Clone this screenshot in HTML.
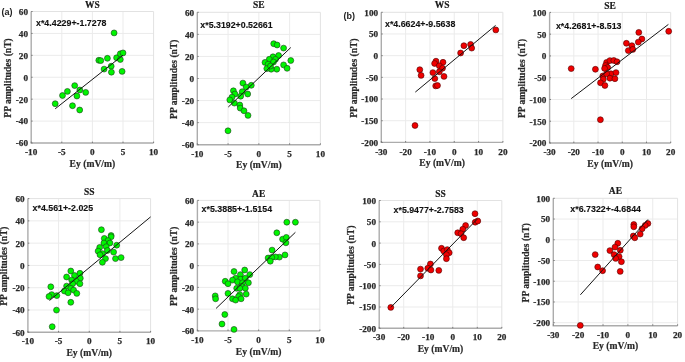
<!DOCTYPE html>
<html><head><meta charset="utf-8"><title>PP amplitudes vs Ey</title>
<style>
html,body{margin:0;padding:0;background:#fff;}
svg{display:block;filter:blur(0.35px);}
.tk{font-family:'Liberation Serif', serif;font-weight:bold;font-size:9.2px;fill:#2a2a2a;stroke:#2a2a2a;stroke-width:0.25px;}
.ti{font-family:'Liberation Serif', serif;font-weight:bold;font-size:9.5px;fill:#1a1a1a;stroke:#1a1a1a;stroke-width:0.2px;}
.lb{font-family:'Liberation Serif', serif;font-weight:bold;font-size:9.6px;fill:#2a2a2a;stroke:#2a2a2a;stroke-width:0.2px;}
.eq{font-family:'Liberation Sans', sans-serif;font-weight:bold;font-size:8.8px;fill:#111;stroke:#111;stroke-width:0.12px;}
.pl{font-family:'Liberation Sans', sans-serif;font-weight:bold;font-size:9.0px;fill:#222;}
</style></head>
<body>
<svg width="685" height="362" viewBox="0 0 685 362">
<rect width="685" height="362" fill="#fff"/>
<text x="1.4" y="15" class="pl">(a)</text>
<text x="343.4" y="19" class="pl">(b)</text>
<line x1="61.8" y1="11.5" x2="61.8" y2="143" stroke="#ebebeb" stroke-width="1"/>
<line x1="92.4" y1="11.5" x2="92.4" y2="143" stroke="#ebebeb" stroke-width="1"/>
<line x1="123" y1="11.5" x2="123" y2="143" stroke="#ebebeb" stroke-width="1"/>
<line x1="31.2" y1="121.08" x2="153.6" y2="121.08" stroke="#ebebeb" stroke-width="1"/>
<line x1="31.2" y1="99.17" x2="153.6" y2="99.17" stroke="#ebebeb" stroke-width="1"/>
<line x1="31.2" y1="77.25" x2="153.6" y2="77.25" stroke="#ebebeb" stroke-width="1"/>
<line x1="31.2" y1="55.33" x2="153.6" y2="55.33" stroke="#ebebeb" stroke-width="1"/>
<line x1="31.2" y1="33.42" x2="153.6" y2="33.42" stroke="#ebebeb" stroke-width="1"/>
<path d="M31.2 11.5H153.6V143" fill="none" stroke="#e2e2e2" stroke-width="1"/>
<path d="M31.2 11.5V143H153.6" fill="none" stroke="#acacac" stroke-width="1.4"/>
<path d="M31.2 143v-1.4M61.8 143v-1.4M92.4 143v-1.4M123 143v-1.4M153.6 143v-1.4M31.2 143h1.4M31.2 121.08h1.4M31.2 99.17h1.4M31.2 77.25h1.4M31.2 55.33h1.4M31.2 33.42h1.4M31.2 11.5h1.4" stroke="#707070" stroke-width="0.9" fill="none"/>
<circle cx="114.1" cy="32.9" r="2.95" fill="#00f500" stroke="#1c3a1c" stroke-width="0.6"/>
<circle cx="98.8" cy="60.3" r="2.95" fill="#00f500" stroke="#1c3a1c" stroke-width="0.6"/>
<circle cx="100.8" cy="60.6" r="2.95" fill="#00f500" stroke="#1c3a1c" stroke-width="0.6"/>
<circle cx="107.4" cy="58.3" r="2.95" fill="#00f500" stroke="#1c3a1c" stroke-width="0.6"/>
<circle cx="116.6" cy="57.8" r="2.95" fill="#00f500" stroke="#1c3a1c" stroke-width="0.6"/>
<circle cx="120.3" cy="53.8" r="2.95" fill="#00f500" stroke="#1c3a1c" stroke-width="0.6"/>
<circle cx="123" cy="52.9" r="2.95" fill="#00f500" stroke="#1c3a1c" stroke-width="0.6"/>
<circle cx="120.3" cy="59.5" r="2.95" fill="#00f500" stroke="#1c3a1c" stroke-width="0.6"/>
<circle cx="104.1" cy="69.1" r="2.95" fill="#00f500" stroke="#1c3a1c" stroke-width="0.6"/>
<circle cx="111.2" cy="66.2" r="2.95" fill="#00f500" stroke="#1c3a1c" stroke-width="0.6"/>
<circle cx="111.4" cy="72.2" r="2.95" fill="#00f500" stroke="#1c3a1c" stroke-width="0.6"/>
<circle cx="122.1" cy="71.4" r="2.95" fill="#00f500" stroke="#1c3a1c" stroke-width="0.6"/>
<circle cx="74.7" cy="85.6" r="2.95" fill="#00f500" stroke="#1c3a1c" stroke-width="0.6"/>
<circle cx="67.4" cy="91.4" r="2.95" fill="#00f500" stroke="#1c3a1c" stroke-width="0.6"/>
<circle cx="79.8" cy="90" r="2.95" fill="#00f500" stroke="#1c3a1c" stroke-width="0.6"/>
<circle cx="85.7" cy="92.4" r="2.95" fill="#00f500" stroke="#1c3a1c" stroke-width="0.6"/>
<circle cx="62.5" cy="95.5" r="2.95" fill="#00f500" stroke="#1c3a1c" stroke-width="0.6"/>
<circle cx="76.9" cy="96" r="2.95" fill="#00f500" stroke="#1c3a1c" stroke-width="0.6"/>
<circle cx="55.2" cy="103.7" r="2.95" fill="#00f500" stroke="#1c3a1c" stroke-width="0.6"/>
<circle cx="72.5" cy="105.7" r="2.95" fill="#00f500" stroke="#1c3a1c" stroke-width="0.6"/>
<circle cx="79.7" cy="110" r="2.95" fill="#00f500" stroke="#1c3a1c" stroke-width="0.6"/>
<line x1="55.2" y1="108.8" x2="123" y2="55.2" stroke="#151515" stroke-width="1.0"/>
<text x="31.2" y="155.1" class="tk" text-anchor="middle">-10</text>
<text x="61.8" y="155.1" class="tk" text-anchor="middle">-5</text>
<text x="92.4" y="155.1" class="tk" text-anchor="middle">0</text>
<text x="123" y="155.1" class="tk" text-anchor="middle">5</text>
<text x="153.6" y="155.1" class="tk" text-anchor="middle">10</text>
<text x="28" y="146.4" class="tk" text-anchor="end">-60</text>
<text x="28" y="124.48" class="tk" text-anchor="end">-40</text>
<text x="28" y="102.57" class="tk" text-anchor="end">-20</text>
<text x="28" y="80.65" class="tk" text-anchor="end">0</text>
<text x="28" y="58.73" class="tk" text-anchor="end">20</text>
<text x="28" y="36.82" class="tk" text-anchor="end">40</text>
<text x="28" y="14.9" class="tk" text-anchor="end">60</text>
<text x="92.4" y="7.6" class="ti" text-anchor="middle">WS</text>
<text x="92.4" y="166.6" class="lb" text-anchor="middle">Ey (mV/m)</text>
<text transform="translate(10.5 77.95) rotate(-90)" class="lb" text-anchor="middle">PP amplitudes (nT)</text>
<text x="36" y="26.3" class="eq" textLength="70.5">x*4.4229+-1.7278</text>
<line x1="228.07" y1="12.3" x2="228.07" y2="144.7" stroke="#ebebeb" stroke-width="1"/>
<line x1="258.85" y1="12.3" x2="258.85" y2="144.7" stroke="#ebebeb" stroke-width="1"/>
<line x1="289.62" y1="12.3" x2="289.62" y2="144.7" stroke="#ebebeb" stroke-width="1"/>
<line x1="197.3" y1="122.63" x2="320.4" y2="122.63" stroke="#ebebeb" stroke-width="1"/>
<line x1="197.3" y1="100.57" x2="320.4" y2="100.57" stroke="#ebebeb" stroke-width="1"/>
<line x1="197.3" y1="78.5" x2="320.4" y2="78.5" stroke="#ebebeb" stroke-width="1"/>
<line x1="197.3" y1="56.43" x2="320.4" y2="56.43" stroke="#ebebeb" stroke-width="1"/>
<line x1="197.3" y1="34.37" x2="320.4" y2="34.37" stroke="#ebebeb" stroke-width="1"/>
<path d="M197.3 12.3H320.4V144.7" fill="none" stroke="#e2e2e2" stroke-width="1"/>
<path d="M197.3 12.3V144.7H320.4" fill="none" stroke="#acacac" stroke-width="1.4"/>
<path d="M197.3 144.7v-1.4M228.07 144.7v-1.4M258.85 144.7v-1.4M289.62 144.7v-1.4M320.4 144.7v-1.4M197.3 144.7h1.4M197.3 122.63h1.4M197.3 100.57h1.4M197.3 78.5h1.4M197.3 56.43h1.4M197.3 34.37h1.4M197.3 12.3h1.4" stroke="#707070" stroke-width="0.9" fill="none"/>
<circle cx="273.7" cy="43.7" r="2.95" fill="#00f500" stroke="#1c3a1c" stroke-width="0.6"/>
<circle cx="277.1" cy="45" r="2.95" fill="#00f500" stroke="#1c3a1c" stroke-width="0.6"/>
<circle cx="283.6" cy="48.1" r="2.95" fill="#00f500" stroke="#1c3a1c" stroke-width="0.6"/>
<circle cx="290.8" cy="60.5" r="2.95" fill="#00f500" stroke="#1c3a1c" stroke-width="0.6"/>
<circle cx="278.6" cy="55.5" r="2.95" fill="#00f500" stroke="#1c3a1c" stroke-width="0.6"/>
<circle cx="273" cy="56.8" r="2.95" fill="#00f500" stroke="#1c3a1c" stroke-width="0.6"/>
<circle cx="269.3" cy="59.3" r="2.95" fill="#00f500" stroke="#1c3a1c" stroke-width="0.6"/>
<circle cx="275.5" cy="59.3" r="2.95" fill="#00f500" stroke="#1c3a1c" stroke-width="0.6"/>
<circle cx="265" cy="62.4" r="2.95" fill="#00f500" stroke="#1c3a1c" stroke-width="0.6"/>
<circle cx="268.1" cy="64.2" r="2.95" fill="#00f500" stroke="#1c3a1c" stroke-width="0.6"/>
<circle cx="283.6" cy="64.9" r="2.95" fill="#00f500" stroke="#1c3a1c" stroke-width="0.6"/>
<circle cx="287.1" cy="68.3" r="2.95" fill="#00f500" stroke="#1c3a1c" stroke-width="0.6"/>
<circle cx="276.8" cy="69.2" r="2.95" fill="#00f500" stroke="#1c3a1c" stroke-width="0.6"/>
<circle cx="271.2" cy="69.2" r="2.95" fill="#00f500" stroke="#1c3a1c" stroke-width="0.6"/>
<circle cx="266.8" cy="68.6" r="2.95" fill="#00f500" stroke="#1c3a1c" stroke-width="0.6"/>
<circle cx="273.5" cy="62" r="2.95" fill="#00f500" stroke="#1c3a1c" stroke-width="0.6"/>
<circle cx="270.5" cy="66" r="2.95" fill="#00f500" stroke="#1c3a1c" stroke-width="0.6"/>
<circle cx="242.9" cy="83.1" r="2.95" fill="#00f500" stroke="#1c3a1c" stroke-width="0.6"/>
<circle cx="251.3" cy="85.3" r="2.95" fill="#00f500" stroke="#1c3a1c" stroke-width="0.6"/>
<circle cx="246.2" cy="87.1" r="2.95" fill="#00f500" stroke="#1c3a1c" stroke-width="0.6"/>
<circle cx="233.4" cy="90.8" r="2.95" fill="#00f500" stroke="#1c3a1c" stroke-width="0.6"/>
<circle cx="234.9" cy="94" r="2.95" fill="#00f500" stroke="#1c3a1c" stroke-width="0.6"/>
<circle cx="242.2" cy="91.7" r="2.95" fill="#00f500" stroke="#1c3a1c" stroke-width="0.6"/>
<circle cx="247.7" cy="94" r="2.95" fill="#00f500" stroke="#1c3a1c" stroke-width="0.6"/>
<circle cx="240.7" cy="96.2" r="2.95" fill="#00f500" stroke="#1c3a1c" stroke-width="0.6"/>
<circle cx="232" cy="97.1" r="2.95" fill="#00f500" stroke="#1c3a1c" stroke-width="0.6"/>
<circle cx="229.8" cy="99.9" r="2.95" fill="#00f500" stroke="#1c3a1c" stroke-width="0.6"/>
<circle cx="234.4" cy="103.1" r="2.95" fill="#00f500" stroke="#1c3a1c" stroke-width="0.6"/>
<circle cx="239.8" cy="105" r="2.95" fill="#00f500" stroke="#1c3a1c" stroke-width="0.6"/>
<circle cx="240.2" cy="108.1" r="2.95" fill="#00f500" stroke="#1c3a1c" stroke-width="0.6"/>
<circle cx="244" cy="110.8" r="2.95" fill="#00f500" stroke="#1c3a1c" stroke-width="0.6"/>
<circle cx="248" cy="115.4" r="2.95" fill="#00f500" stroke="#1c3a1c" stroke-width="0.6"/>
<circle cx="228" cy="130.8" r="2.95" fill="#00f500" stroke="#1c3a1c" stroke-width="0.6"/>
<line x1="228.3" y1="107" x2="290.8" y2="47.5" stroke="#151515" stroke-width="1.0"/>
<text x="197.3" y="156.8" class="tk" text-anchor="middle">-10</text>
<text x="228.07" y="156.8" class="tk" text-anchor="middle">-5</text>
<text x="258.85" y="156.8" class="tk" text-anchor="middle">0</text>
<text x="289.62" y="156.8" class="tk" text-anchor="middle">5</text>
<text x="320.4" y="156.8" class="tk" text-anchor="middle">10</text>
<text x="194.1" y="148.1" class="tk" text-anchor="end">-60</text>
<text x="194.1" y="126.03" class="tk" text-anchor="end">-40</text>
<text x="194.1" y="103.97" class="tk" text-anchor="end">-20</text>
<text x="194.1" y="81.9" class="tk" text-anchor="end">0</text>
<text x="194.1" y="59.83" class="tk" text-anchor="end">20</text>
<text x="194.1" y="37.77" class="tk" text-anchor="end">40</text>
<text x="194.1" y="15.7" class="tk" text-anchor="end">60</text>
<text x="258.85" y="8.4" class="ti" text-anchor="middle">SE</text>
<text x="258.85" y="168.3" class="lb" text-anchor="middle">Ey (mV/m)</text>
<text transform="translate(176.6 79.2) rotate(-90)" class="lb" text-anchor="middle">PP amplitudes (nT)</text>
<text x="200.3" y="28" class="eq" textLength="72.3">x*5.3192+0.52661</text>
<line x1="58.57" y1="198.6" x2="58.57" y2="332.3" stroke="#ebebeb" stroke-width="1"/>
<line x1="89.25" y1="198.6" x2="89.25" y2="332.3" stroke="#ebebeb" stroke-width="1"/>
<line x1="119.92" y1="198.6" x2="119.92" y2="332.3" stroke="#ebebeb" stroke-width="1"/>
<line x1="27.9" y1="310.02" x2="150.6" y2="310.02" stroke="#ebebeb" stroke-width="1"/>
<line x1="27.9" y1="287.73" x2="150.6" y2="287.73" stroke="#ebebeb" stroke-width="1"/>
<line x1="27.9" y1="265.45" x2="150.6" y2="265.45" stroke="#ebebeb" stroke-width="1"/>
<line x1="27.9" y1="243.17" x2="150.6" y2="243.17" stroke="#ebebeb" stroke-width="1"/>
<line x1="27.9" y1="220.88" x2="150.6" y2="220.88" stroke="#ebebeb" stroke-width="1"/>
<path d="M27.9 198.6H150.6V332.3" fill="none" stroke="#e2e2e2" stroke-width="1"/>
<path d="M27.9 198.6V332.3H150.6" fill="none" stroke="#acacac" stroke-width="1.4"/>
<path d="M27.9 332.3v-1.4M58.57 332.3v-1.4M89.25 332.3v-1.4M119.92 332.3v-1.4M150.6 332.3v-1.4M27.9 332.3h1.4M27.9 310.02h1.4M27.9 287.73h1.4M27.9 265.45h1.4M27.9 243.17h1.4M27.9 220.88h1.4M27.9 198.6h1.4" stroke="#707070" stroke-width="0.9" fill="none"/>
<circle cx="101.4" cy="229.7" r="2.95" fill="#00f500" stroke="#1c3a1c" stroke-width="0.6"/>
<circle cx="111.1" cy="235.5" r="2.95" fill="#00f500" stroke="#1c3a1c" stroke-width="0.6"/>
<circle cx="111.1" cy="236.8" r="2.95" fill="#00f500" stroke="#1c3a1c" stroke-width="0.6"/>
<circle cx="104.3" cy="238.4" r="2.95" fill="#00f500" stroke="#1c3a1c" stroke-width="0.6"/>
<circle cx="108" cy="240.5" r="2.95" fill="#00f500" stroke="#1c3a1c" stroke-width="0.6"/>
<circle cx="109.9" cy="243" r="2.95" fill="#00f500" stroke="#1c3a1c" stroke-width="0.6"/>
<circle cx="103.9" cy="243" r="2.95" fill="#00f500" stroke="#1c3a1c" stroke-width="0.6"/>
<circle cx="116.7" cy="245.2" r="2.95" fill="#00f500" stroke="#1c3a1c" stroke-width="0.6"/>
<circle cx="99.7" cy="247.4" r="2.95" fill="#00f500" stroke="#1c3a1c" stroke-width="0.6"/>
<circle cx="106.2" cy="246.7" r="2.95" fill="#00f500" stroke="#1c3a1c" stroke-width="0.6"/>
<circle cx="107.4" cy="250.5" r="2.95" fill="#00f500" stroke="#1c3a1c" stroke-width="0.6"/>
<circle cx="98.1" cy="251.1" r="2.95" fill="#00f500" stroke="#1c3a1c" stroke-width="0.6"/>
<circle cx="113.6" cy="252.1" r="2.95" fill="#00f500" stroke="#1c3a1c" stroke-width="0.6"/>
<circle cx="102.4" cy="253.6" r="2.95" fill="#00f500" stroke="#1c3a1c" stroke-width="0.6"/>
<circle cx="100" cy="254.8" r="2.95" fill="#00f500" stroke="#1c3a1c" stroke-width="0.6"/>
<circle cx="105.5" cy="258.6" r="2.95" fill="#00f500" stroke="#1c3a1c" stroke-width="0.6"/>
<circle cx="115.5" cy="258.6" r="2.95" fill="#00f500" stroke="#1c3a1c" stroke-width="0.6"/>
<circle cx="121.1" cy="257.6" r="2.95" fill="#00f500" stroke="#1c3a1c" stroke-width="0.6"/>
<circle cx="102.4" cy="262.3" r="2.95" fill="#00f500" stroke="#1c3a1c" stroke-width="0.6"/>
<circle cx="70.8" cy="271" r="2.95" fill="#00f500" stroke="#1c3a1c" stroke-width="0.6"/>
<circle cx="79.9" cy="273.3" r="2.95" fill="#00f500" stroke="#1c3a1c" stroke-width="0.6"/>
<circle cx="66.6" cy="277" r="2.95" fill="#00f500" stroke="#1c3a1c" stroke-width="0.6"/>
<circle cx="74.5" cy="275.5" r="2.95" fill="#00f500" stroke="#1c3a1c" stroke-width="0.6"/>
<circle cx="80.3" cy="278.2" r="2.95" fill="#00f500" stroke="#1c3a1c" stroke-width="0.6"/>
<circle cx="71.7" cy="280.1" r="2.95" fill="#00f500" stroke="#1c3a1c" stroke-width="0.6"/>
<circle cx="76.3" cy="281.3" r="2.95" fill="#00f500" stroke="#1c3a1c" stroke-width="0.6"/>
<circle cx="79.9" cy="283.7" r="2.95" fill="#00f500" stroke="#1c3a1c" stroke-width="0.6"/>
<circle cx="72.6" cy="283.7" r="2.95" fill="#00f500" stroke="#1c3a1c" stroke-width="0.6"/>
<circle cx="66.6" cy="286.1" r="2.95" fill="#00f500" stroke="#1c3a1c" stroke-width="0.6"/>
<circle cx="70.8" cy="288.3" r="2.95" fill="#00f500" stroke="#1c3a1c" stroke-width="0.6"/>
<circle cx="73.6" cy="290.1" r="2.95" fill="#00f500" stroke="#1c3a1c" stroke-width="0.6"/>
<circle cx="64.4" cy="291" r="2.95" fill="#00f500" stroke="#1c3a1c" stroke-width="0.6"/>
<circle cx="68.1" cy="292.8" r="2.95" fill="#00f500" stroke="#1c3a1c" stroke-width="0.6"/>
<circle cx="76.8" cy="293.4" r="2.95" fill="#00f500" stroke="#1c3a1c" stroke-width="0.6"/>
<circle cx="50.8" cy="286.8" r="2.95" fill="#00f500" stroke="#1c3a1c" stroke-width="0.6"/>
<circle cx="51.7" cy="294.6" r="2.95" fill="#00f500" stroke="#1c3a1c" stroke-width="0.6"/>
<circle cx="49" cy="296.5" r="2.95" fill="#00f500" stroke="#1c3a1c" stroke-width="0.6"/>
<circle cx="56.8" cy="295.6" r="2.95" fill="#00f500" stroke="#1c3a1c" stroke-width="0.6"/>
<circle cx="70.8" cy="302.3" r="2.95" fill="#00f500" stroke="#1c3a1c" stroke-width="0.6"/>
<circle cx="56.5" cy="310.1" r="2.95" fill="#00f500" stroke="#1c3a1c" stroke-width="0.6"/>
<circle cx="52.2" cy="326.7" r="2.95" fill="#00f500" stroke="#1c3a1c" stroke-width="0.6"/>
<line x1="49.5" y1="300.5" x2="150.6" y2="216.9" stroke="#151515" stroke-width="1.0"/>
<text x="27.9" y="344.4" class="tk" text-anchor="middle">-10</text>
<text x="58.57" y="344.4" class="tk" text-anchor="middle">-5</text>
<text x="89.25" y="344.4" class="tk" text-anchor="middle">0</text>
<text x="119.92" y="344.4" class="tk" text-anchor="middle">5</text>
<text x="150.6" y="344.4" class="tk" text-anchor="middle">10</text>
<text x="24.7" y="335.7" class="tk" text-anchor="end">-60</text>
<text x="24.7" y="313.42" class="tk" text-anchor="end">-40</text>
<text x="24.7" y="291.13" class="tk" text-anchor="end">-20</text>
<text x="24.7" y="268.85" class="tk" text-anchor="end">0</text>
<text x="24.7" y="246.57" class="tk" text-anchor="end">20</text>
<text x="24.7" y="224.28" class="tk" text-anchor="end">40</text>
<text x="24.7" y="202" class="tk" text-anchor="end">60</text>
<text x="89.25" y="194.7" class="ti" text-anchor="middle">SS</text>
<text x="89.25" y="355.9" class="lb" text-anchor="middle">Ey (mV/m)</text>
<text transform="translate(7.2 266.15) rotate(-90)" class="lb" text-anchor="middle">PP amplitudes (nT)</text>
<text x="32.6" y="211" class="eq" textLength="60.5">x*4.561+-2.025</text>
<line x1="228.03" y1="200.4" x2="228.03" y2="330.9" stroke="#ebebeb" stroke-width="1"/>
<line x1="258.65" y1="200.4" x2="258.65" y2="330.9" stroke="#ebebeb" stroke-width="1"/>
<line x1="289.27" y1="200.4" x2="289.27" y2="330.9" stroke="#ebebeb" stroke-width="1"/>
<line x1="197.4" y1="309.15" x2="319.9" y2="309.15" stroke="#ebebeb" stroke-width="1"/>
<line x1="197.4" y1="287.4" x2="319.9" y2="287.4" stroke="#ebebeb" stroke-width="1"/>
<line x1="197.4" y1="265.65" x2="319.9" y2="265.65" stroke="#ebebeb" stroke-width="1"/>
<line x1="197.4" y1="243.9" x2="319.9" y2="243.9" stroke="#ebebeb" stroke-width="1"/>
<line x1="197.4" y1="222.15" x2="319.9" y2="222.15" stroke="#ebebeb" stroke-width="1"/>
<path d="M197.4 200.4H319.9V330.9" fill="none" stroke="#e2e2e2" stroke-width="1"/>
<path d="M197.4 200.4V330.9H319.9" fill="none" stroke="#acacac" stroke-width="1.4"/>
<path d="M197.4 330.9v-1.4M228.03 330.9v-1.4M258.65 330.9v-1.4M289.27 330.9v-1.4M319.9 330.9v-1.4M197.4 330.9h1.4M197.4 309.15h1.4M197.4 287.4h1.4M197.4 265.65h1.4M197.4 243.9h1.4M197.4 222.15h1.4M197.4 200.4h1.4" stroke="#707070" stroke-width="0.9" fill="none"/>
<circle cx="286.8" cy="222.2" r="2.95" fill="#00f500" stroke="#1c3a1c" stroke-width="0.6"/>
<circle cx="295.4" cy="222.2" r="2.95" fill="#00f500" stroke="#1c3a1c" stroke-width="0.6"/>
<circle cx="276.8" cy="232.8" r="2.95" fill="#00f500" stroke="#1c3a1c" stroke-width="0.6"/>
<circle cx="282.6" cy="239.2" r="2.95" fill="#00f500" stroke="#1c3a1c" stroke-width="0.6"/>
<circle cx="286.3" cy="237.4" r="2.95" fill="#00f500" stroke="#1c3a1c" stroke-width="0.6"/>
<circle cx="285.9" cy="242.8" r="2.95" fill="#00f500" stroke="#1c3a1c" stroke-width="0.6"/>
<circle cx="272.1" cy="250.1" r="2.95" fill="#00f500" stroke="#1c3a1c" stroke-width="0.6"/>
<circle cx="285" cy="254.9" r="2.95" fill="#00f500" stroke="#1c3a1c" stroke-width="0.6"/>
<circle cx="279.4" cy="257.1" r="2.95" fill="#00f500" stroke="#1c3a1c" stroke-width="0.6"/>
<circle cx="275.4" cy="256.9" r="2.95" fill="#00f500" stroke="#1c3a1c" stroke-width="0.6"/>
<circle cx="268.1" cy="258" r="2.95" fill="#00f500" stroke="#1c3a1c" stroke-width="0.6"/>
<circle cx="271.7" cy="257.4" r="2.95" fill="#00f500" stroke="#1c3a1c" stroke-width="0.6"/>
<circle cx="270.3" cy="261.2" r="2.95" fill="#00f500" stroke="#1c3a1c" stroke-width="0.6"/>
<circle cx="234" cy="271.5" r="2.95" fill="#00f500" stroke="#1c3a1c" stroke-width="0.6"/>
<circle cx="244.7" cy="270" r="2.95" fill="#00f500" stroke="#1c3a1c" stroke-width="0.6"/>
<circle cx="249.8" cy="274.6" r="2.95" fill="#00f500" stroke="#1c3a1c" stroke-width="0.6"/>
<circle cx="240.4" cy="274.6" r="2.95" fill="#00f500" stroke="#1c3a1c" stroke-width="0.6"/>
<circle cx="235.6" cy="278.2" r="2.95" fill="#00f500" stroke="#1c3a1c" stroke-width="0.6"/>
<circle cx="232.5" cy="280.1" r="2.95" fill="#00f500" stroke="#1c3a1c" stroke-width="0.6"/>
<circle cx="225.2" cy="281.3" r="2.95" fill="#00f500" stroke="#1c3a1c" stroke-width="0.6"/>
<circle cx="228" cy="283.7" r="2.95" fill="#00f500" stroke="#1c3a1c" stroke-width="0.6"/>
<circle cx="240.7" cy="279.2" r="2.95" fill="#00f500" stroke="#1c3a1c" stroke-width="0.6"/>
<circle cx="245.3" cy="278.2" r="2.95" fill="#00f500" stroke="#1c3a1c" stroke-width="0.6"/>
<circle cx="237.5" cy="281.9" r="2.95" fill="#00f500" stroke="#1c3a1c" stroke-width="0.6"/>
<circle cx="242.6" cy="282.8" r="2.95" fill="#00f500" stroke="#1c3a1c" stroke-width="0.6"/>
<circle cx="248.4" cy="282.8" r="2.95" fill="#00f500" stroke="#1c3a1c" stroke-width="0.6"/>
<circle cx="241.6" cy="286.4" r="2.95" fill="#00f500" stroke="#1c3a1c" stroke-width="0.6"/>
<circle cx="236.7" cy="288.3" r="2.95" fill="#00f500" stroke="#1c3a1c" stroke-width="0.6"/>
<circle cx="245.3" cy="288.3" r="2.95" fill="#00f500" stroke="#1c3a1c" stroke-width="0.6"/>
<circle cx="239.8" cy="288.3" r="2.95" fill="#00f500" stroke="#1c3a1c" stroke-width="0.6"/>
<circle cx="228" cy="293.4" r="2.95" fill="#00f500" stroke="#1c3a1c" stroke-width="0.6"/>
<circle cx="246.2" cy="294.1" r="2.95" fill="#00f500" stroke="#1c3a1c" stroke-width="0.6"/>
<circle cx="239.8" cy="294.6" r="2.95" fill="#00f500" stroke="#1c3a1c" stroke-width="0.6"/>
<circle cx="238.5" cy="296.5" r="2.95" fill="#00f500" stroke="#1c3a1c" stroke-width="0.6"/>
<circle cx="232.5" cy="298.8" r="2.95" fill="#00f500" stroke="#1c3a1c" stroke-width="0.6"/>
<circle cx="235.6" cy="300.1" r="2.95" fill="#00f500" stroke="#1c3a1c" stroke-width="0.6"/>
<circle cx="241.1" cy="298.8" r="2.95" fill="#00f500" stroke="#1c3a1c" stroke-width="0.6"/>
<circle cx="215.2" cy="295.9" r="2.95" fill="#00f500" stroke="#1c3a1c" stroke-width="0.6"/>
<circle cx="215.6" cy="298.8" r="2.95" fill="#00f500" stroke="#1c3a1c" stroke-width="0.6"/>
<circle cx="224.8" cy="314.5" r="2.95" fill="#00f500" stroke="#1c3a1c" stroke-width="0.6"/>
<circle cx="222" cy="324" r="2.95" fill="#00f500" stroke="#1c3a1c" stroke-width="0.6"/>
<circle cx="234" cy="329.4" r="2.95" fill="#00f500" stroke="#1c3a1c" stroke-width="0.6"/>
<line x1="216.1" y1="308.4" x2="295.4" y2="232.3" stroke="#151515" stroke-width="1.0"/>
<text x="197.4" y="343" class="tk" text-anchor="middle">-10</text>
<text x="228.03" y="343" class="tk" text-anchor="middle">-5</text>
<text x="258.65" y="343" class="tk" text-anchor="middle">0</text>
<text x="289.27" y="343" class="tk" text-anchor="middle">5</text>
<text x="319.9" y="343" class="tk" text-anchor="middle">10</text>
<text x="194.2" y="334.3" class="tk" text-anchor="end">-60</text>
<text x="194.2" y="312.55" class="tk" text-anchor="end">-40</text>
<text x="194.2" y="290.8" class="tk" text-anchor="end">-20</text>
<text x="194.2" y="269.05" class="tk" text-anchor="end">0</text>
<text x="194.2" y="247.3" class="tk" text-anchor="end">20</text>
<text x="194.2" y="225.55" class="tk" text-anchor="end">40</text>
<text x="194.2" y="203.8" class="tk" text-anchor="end">60</text>
<text x="258.65" y="196.5" class="ti" text-anchor="middle">AE</text>
<text x="258.65" y="354.5" class="lb" text-anchor="middle">Ey (mV/m)</text>
<text transform="translate(176.7 266.35) rotate(-90)" class="lb" text-anchor="middle">PP amplitudes (nT)</text>
<text x="201.6" y="212.3" class="eq" textLength="70.5">x*5.3885+-1.5154</text>
<line x1="405.62" y1="12.3" x2="405.62" y2="142.4" stroke="#ebebeb" stroke-width="1"/>
<line x1="429.94" y1="12.3" x2="429.94" y2="142.4" stroke="#ebebeb" stroke-width="1"/>
<line x1="454.26" y1="12.3" x2="454.26" y2="142.4" stroke="#ebebeb" stroke-width="1"/>
<line x1="478.58" y1="12.3" x2="478.58" y2="142.4" stroke="#ebebeb" stroke-width="1"/>
<line x1="381.3" y1="120.72" x2="502.9" y2="120.72" stroke="#ebebeb" stroke-width="1"/>
<line x1="381.3" y1="99.03" x2="502.9" y2="99.03" stroke="#ebebeb" stroke-width="1"/>
<line x1="381.3" y1="77.35" x2="502.9" y2="77.35" stroke="#ebebeb" stroke-width="1"/>
<line x1="381.3" y1="55.67" x2="502.9" y2="55.67" stroke="#ebebeb" stroke-width="1"/>
<line x1="381.3" y1="33.98" x2="502.9" y2="33.98" stroke="#ebebeb" stroke-width="1"/>
<path d="M381.3 12.3H502.9V142.4" fill="none" stroke="#e2e2e2" stroke-width="1"/>
<path d="M381.3 12.3V142.4H502.9" fill="none" stroke="#acacac" stroke-width="1.4"/>
<path d="M381.3 142.4v-1.4M405.62 142.4v-1.4M429.94 142.4v-1.4M454.26 142.4v-1.4M478.58 142.4v-1.4M502.9 142.4v-1.4M381.3 142.4h1.4M381.3 120.72h1.4M381.3 99.03h1.4M381.3 77.35h1.4M381.3 55.67h1.4M381.3 33.98h1.4M381.3 12.3h1.4" stroke="#707070" stroke-width="0.9" fill="none"/>
<circle cx="495.8" cy="29.9" r="2.95" fill="#f00000" stroke="#4a0000" stroke-width="0.6"/>
<circle cx="463.9" cy="45.7" r="2.95" fill="#f00000" stroke="#4a0000" stroke-width="0.6"/>
<circle cx="470.6" cy="44.4" r="2.95" fill="#f00000" stroke="#4a0000" stroke-width="0.6"/>
<circle cx="471.7" cy="48.1" r="2.95" fill="#f00000" stroke="#4a0000" stroke-width="0.6"/>
<circle cx="460.6" cy="53" r="2.95" fill="#f00000" stroke="#4a0000" stroke-width="0.6"/>
<circle cx="436" cy="61.2" r="2.95" fill="#f00000" stroke="#4a0000" stroke-width="0.6"/>
<circle cx="434.6" cy="63.5" r="2.95" fill="#f00000" stroke="#4a0000" stroke-width="0.6"/>
<circle cx="443" cy="62.3" r="2.95" fill="#f00000" stroke="#4a0000" stroke-width="0.6"/>
<circle cx="439.3" cy="65.8" r="2.95" fill="#f00000" stroke="#4a0000" stroke-width="0.6"/>
<circle cx="442.5" cy="68.3" r="2.95" fill="#f00000" stroke="#4a0000" stroke-width="0.6"/>
<circle cx="419.8" cy="69.7" r="2.95" fill="#f00000" stroke="#4a0000" stroke-width="0.6"/>
<circle cx="421.1" cy="75.4" r="2.95" fill="#f00000" stroke="#4a0000" stroke-width="0.6"/>
<circle cx="432.9" cy="72.6" r="2.95" fill="#f00000" stroke="#4a0000" stroke-width="0.6"/>
<circle cx="439.3" cy="71.8" r="2.95" fill="#f00000" stroke="#4a0000" stroke-width="0.6"/>
<circle cx="444" cy="76.4" r="2.95" fill="#f00000" stroke="#4a0000" stroke-width="0.6"/>
<circle cx="434.8" cy="78.6" r="2.95" fill="#f00000" stroke="#4a0000" stroke-width="0.6"/>
<circle cx="435.7" cy="85.9" r="2.95" fill="#f00000" stroke="#4a0000" stroke-width="0.6"/>
<circle cx="437.5" cy="85.5" r="2.95" fill="#f00000" stroke="#4a0000" stroke-width="0.6"/>
<circle cx="415" cy="125.5" r="2.95" fill="#f00000" stroke="#4a0000" stroke-width="0.6"/>
<line x1="415.3" y1="92.1" x2="495.6" y2="25.4" stroke="#151515" stroke-width="1.0"/>
<text x="381.3" y="154.5" class="tk" text-anchor="middle">-30</text>
<text x="405.62" y="154.5" class="tk" text-anchor="middle">-20</text>
<text x="429.94" y="154.5" class="tk" text-anchor="middle">-10</text>
<text x="454.26" y="154.5" class="tk" text-anchor="middle">0</text>
<text x="478.58" y="154.5" class="tk" text-anchor="middle">10</text>
<text x="502.9" y="154.5" class="tk" text-anchor="middle">20</text>
<text x="378.1" y="145.8" class="tk" text-anchor="end">-200</text>
<text x="378.1" y="124.12" class="tk" text-anchor="end">-150</text>
<text x="378.1" y="102.43" class="tk" text-anchor="end">-100</text>
<text x="378.1" y="80.75" class="tk" text-anchor="end">-50</text>
<text x="378.1" y="59.07" class="tk" text-anchor="end">0</text>
<text x="378.1" y="37.38" class="tk" text-anchor="end">50</text>
<text x="378.1" y="15.7" class="tk" text-anchor="end">100</text>
<text x="442.1" y="8.4" class="ti" text-anchor="middle">WS</text>
<text x="442.1" y="166" class="lb" text-anchor="middle">Ey (mV/m)</text>
<text transform="translate(356.5 78.05) rotate(-90)" class="lb" text-anchor="middle">PP amplitudes (nT)</text>
<text x="385" y="26.5" class="eq" textLength="70.3">x*4.6624+-9.5638</text>
<line x1="573.82" y1="12.4" x2="573.82" y2="143" stroke="#ebebeb" stroke-width="1"/>
<line x1="598.04" y1="12.4" x2="598.04" y2="143" stroke="#ebebeb" stroke-width="1"/>
<line x1="622.26" y1="12.4" x2="622.26" y2="143" stroke="#ebebeb" stroke-width="1"/>
<line x1="646.48" y1="12.4" x2="646.48" y2="143" stroke="#ebebeb" stroke-width="1"/>
<line x1="549.6" y1="121.23" x2="670.7" y2="121.23" stroke="#ebebeb" stroke-width="1"/>
<line x1="549.6" y1="99.47" x2="670.7" y2="99.47" stroke="#ebebeb" stroke-width="1"/>
<line x1="549.6" y1="77.7" x2="670.7" y2="77.7" stroke="#ebebeb" stroke-width="1"/>
<line x1="549.6" y1="55.93" x2="670.7" y2="55.93" stroke="#ebebeb" stroke-width="1"/>
<line x1="549.6" y1="34.17" x2="670.7" y2="34.17" stroke="#ebebeb" stroke-width="1"/>
<path d="M549.6 12.4H670.7V143" fill="none" stroke="#e2e2e2" stroke-width="1"/>
<path d="M549.6 12.4V143H670.7" fill="none" stroke="#acacac" stroke-width="1.4"/>
<path d="M549.6 143v-1.4M573.82 143v-1.4M598.04 143v-1.4M622.26 143v-1.4M646.48 143v-1.4M670.7 143v-1.4M549.6 143h1.4M549.6 121.23h1.4M549.6 99.47h1.4M549.6 77.7h1.4M549.6 55.93h1.4M549.6 34.17h1.4M549.6 12.4h1.4" stroke="#707070" stroke-width="0.9" fill="none"/>
<circle cx="668.7" cy="31.3" r="2.95" fill="#f00000" stroke="#4a0000" stroke-width="0.6"/>
<circle cx="638.8" cy="32.4" r="2.95" fill="#f00000" stroke="#4a0000" stroke-width="0.6"/>
<circle cx="641.9" cy="39" r="2.95" fill="#f00000" stroke="#4a0000" stroke-width="0.6"/>
<circle cx="638.3" cy="42.1" r="2.95" fill="#f00000" stroke="#4a0000" stroke-width="0.6"/>
<circle cx="626.4" cy="43.3" r="2.95" fill="#f00000" stroke="#4a0000" stroke-width="0.6"/>
<circle cx="631.9" cy="45.7" r="2.95" fill="#f00000" stroke="#4a0000" stroke-width="0.6"/>
<circle cx="628.3" cy="50.6" r="2.95" fill="#f00000" stroke="#4a0000" stroke-width="0.6"/>
<circle cx="632.8" cy="49.4" r="2.95" fill="#f00000" stroke="#4a0000" stroke-width="0.6"/>
<circle cx="571.2" cy="68.6" r="2.95" fill="#f00000" stroke="#4a0000" stroke-width="0.6"/>
<circle cx="595.4" cy="69.3" r="2.95" fill="#f00000" stroke="#4a0000" stroke-width="0.6"/>
<circle cx="606.6" cy="62.4" r="2.95" fill="#f00000" stroke="#4a0000" stroke-width="0.6"/>
<circle cx="609.9" cy="60.6" r="2.95" fill="#f00000" stroke="#4a0000" stroke-width="0.6"/>
<circle cx="613.8" cy="60.5" r="2.95" fill="#f00000" stroke="#4a0000" stroke-width="0.6"/>
<circle cx="617" cy="61.8" r="2.95" fill="#f00000" stroke="#4a0000" stroke-width="0.6"/>
<circle cx="605.5" cy="65.5" r="2.95" fill="#f00000" stroke="#4a0000" stroke-width="0.6"/>
<circle cx="607.7" cy="67.5" r="2.95" fill="#f00000" stroke="#4a0000" stroke-width="0.6"/>
<circle cx="604.6" cy="68.4" r="2.95" fill="#f00000" stroke="#4a0000" stroke-width="0.6"/>
<circle cx="611" cy="73.8" r="2.95" fill="#f00000" stroke="#4a0000" stroke-width="0.6"/>
<circle cx="616" cy="72.6" r="2.95" fill="#f00000" stroke="#4a0000" stroke-width="0.6"/>
<circle cx="602.8" cy="76" r="2.95" fill="#f00000" stroke="#4a0000" stroke-width="0.6"/>
<circle cx="606.6" cy="73.8" r="2.95" fill="#f00000" stroke="#4a0000" stroke-width="0.6"/>
<circle cx="609.9" cy="78.2" r="2.95" fill="#f00000" stroke="#4a0000" stroke-width="0.6"/>
<circle cx="614.9" cy="78.7" r="2.95" fill="#f00000" stroke="#4a0000" stroke-width="0.6"/>
<circle cx="603.3" cy="79.3" r="2.95" fill="#f00000" stroke="#4a0000" stroke-width="0.6"/>
<circle cx="600.5" cy="82.8" r="2.95" fill="#f00000" stroke="#4a0000" stroke-width="0.6"/>
<circle cx="604.9" cy="85.5" r="2.95" fill="#f00000" stroke="#4a0000" stroke-width="0.6"/>
<circle cx="600.4" cy="119.7" r="2.95" fill="#f00000" stroke="#4a0000" stroke-width="0.6"/>
<line x1="571.2" y1="98.6" x2="668.4" y2="24.4" stroke="#151515" stroke-width="1.0"/>
<text x="549.6" y="155.1" class="tk" text-anchor="middle">-30</text>
<text x="573.82" y="155.1" class="tk" text-anchor="middle">-20</text>
<text x="598.04" y="155.1" class="tk" text-anchor="middle">-10</text>
<text x="622.26" y="155.1" class="tk" text-anchor="middle">0</text>
<text x="646.48" y="155.1" class="tk" text-anchor="middle">10</text>
<text x="670.7" y="155.1" class="tk" text-anchor="middle">20</text>
<text x="546.4" y="146.4" class="tk" text-anchor="end">-200</text>
<text x="546.4" y="124.63" class="tk" text-anchor="end">-150</text>
<text x="546.4" y="102.87" class="tk" text-anchor="end">-100</text>
<text x="546.4" y="81.1" class="tk" text-anchor="end">-50</text>
<text x="546.4" y="59.33" class="tk" text-anchor="end">0</text>
<text x="546.4" y="37.57" class="tk" text-anchor="end">50</text>
<text x="546.4" y="15.8" class="tk" text-anchor="end">100</text>
<text x="610.15" y="8.5" class="ti" text-anchor="middle">SE</text>
<text x="610.15" y="166.6" class="lb" text-anchor="middle">Ey (mV/m)</text>
<text transform="translate(524.8 78.4) rotate(-90)" class="lb" text-anchor="middle">PP amplitudes (nT)</text>
<text x="555.9" y="29.4" class="eq" textLength="65.6">x*4.2681+-8.513</text>
<line x1="403.72" y1="200.5" x2="403.72" y2="328.3" stroke="#ebebeb" stroke-width="1"/>
<line x1="428.24" y1="200.5" x2="428.24" y2="328.3" stroke="#ebebeb" stroke-width="1"/>
<line x1="452.76" y1="200.5" x2="452.76" y2="328.3" stroke="#ebebeb" stroke-width="1"/>
<line x1="477.28" y1="200.5" x2="477.28" y2="328.3" stroke="#ebebeb" stroke-width="1"/>
<line x1="379.2" y1="307" x2="501.8" y2="307" stroke="#ebebeb" stroke-width="1"/>
<line x1="379.2" y1="285.7" x2="501.8" y2="285.7" stroke="#ebebeb" stroke-width="1"/>
<line x1="379.2" y1="264.4" x2="501.8" y2="264.4" stroke="#ebebeb" stroke-width="1"/>
<line x1="379.2" y1="243.1" x2="501.8" y2="243.1" stroke="#ebebeb" stroke-width="1"/>
<line x1="379.2" y1="221.8" x2="501.8" y2="221.8" stroke="#ebebeb" stroke-width="1"/>
<path d="M379.2 200.5H501.8V328.3" fill="none" stroke="#e2e2e2" stroke-width="1"/>
<path d="M379.2 200.5V328.3H501.8" fill="none" stroke="#acacac" stroke-width="1.4"/>
<path d="M379.2 328.3v-1.4M403.72 328.3v-1.4M428.24 328.3v-1.4M452.76 328.3v-1.4M477.28 328.3v-1.4M501.8 328.3v-1.4M379.2 328.3h1.4M379.2 307h1.4M379.2 285.7h1.4M379.2 264.4h1.4M379.2 243.1h1.4M379.2 221.8h1.4M379.2 200.5h1.4" stroke="#707070" stroke-width="0.9" fill="none"/>
<circle cx="475" cy="213.7" r="2.95" fill="#f00000" stroke="#4a0000" stroke-width="0.6"/>
<circle cx="475.2" cy="222.2" r="2.95" fill="#f00000" stroke="#4a0000" stroke-width="0.6"/>
<circle cx="477.8" cy="221" r="2.95" fill="#f00000" stroke="#4a0000" stroke-width="0.6"/>
<circle cx="465.6" cy="225.5" r="2.95" fill="#f00000" stroke="#4a0000" stroke-width="0.6"/>
<circle cx="462.8" cy="229.2" r="2.95" fill="#f00000" stroke="#4a0000" stroke-width="0.6"/>
<circle cx="457.7" cy="232.8" r="2.95" fill="#f00000" stroke="#4a0000" stroke-width="0.6"/>
<circle cx="461" cy="233.7" r="2.95" fill="#f00000" stroke="#4a0000" stroke-width="0.6"/>
<circle cx="463.7" cy="237.7" r="2.95" fill="#f00000" stroke="#4a0000" stroke-width="0.6"/>
<circle cx="441.5" cy="248.3" r="2.95" fill="#f00000" stroke="#4a0000" stroke-width="0.6"/>
<circle cx="443.7" cy="251" r="2.95" fill="#f00000" stroke="#4a0000" stroke-width="0.6"/>
<circle cx="447.3" cy="249.6" r="2.95" fill="#f00000" stroke="#4a0000" stroke-width="0.6"/>
<circle cx="449.2" cy="252.8" r="2.95" fill="#f00000" stroke="#4a0000" stroke-width="0.6"/>
<circle cx="446.4" cy="254.7" r="2.95" fill="#f00000" stroke="#4a0000" stroke-width="0.6"/>
<circle cx="446.4" cy="258.7" r="2.95" fill="#f00000" stroke="#4a0000" stroke-width="0.6"/>
<circle cx="430.4" cy="264" r="2.95" fill="#f00000" stroke="#4a0000" stroke-width="0.6"/>
<circle cx="420.5" cy="269.1" r="2.95" fill="#f00000" stroke="#4a0000" stroke-width="0.6"/>
<circle cx="427.8" cy="268.2" r="2.95" fill="#f00000" stroke="#4a0000" stroke-width="0.6"/>
<circle cx="430.9" cy="270" r="2.95" fill="#f00000" stroke="#4a0000" stroke-width="0.6"/>
<circle cx="438.8" cy="270.4" r="2.95" fill="#f00000" stroke="#4a0000" stroke-width="0.6"/>
<circle cx="420.5" cy="275.9" r="2.95" fill="#f00000" stroke="#4a0000" stroke-width="0.6"/>
<circle cx="390.8" cy="307.4" r="2.95" fill="#f00000" stroke="#4a0000" stroke-width="0.6"/>
<line x1="390.8" y1="307.4" x2="477.4" y2="219" stroke="#151515" stroke-width="1.0"/>
<text x="379.2" y="340.4" class="tk" text-anchor="middle">-30</text>
<text x="403.72" y="340.4" class="tk" text-anchor="middle">-20</text>
<text x="428.24" y="340.4" class="tk" text-anchor="middle">-10</text>
<text x="452.76" y="340.4" class="tk" text-anchor="middle">0</text>
<text x="477.28" y="340.4" class="tk" text-anchor="middle">10</text>
<text x="501.8" y="340.4" class="tk" text-anchor="middle">20</text>
<text x="376" y="331.7" class="tk" text-anchor="end">-200</text>
<text x="376" y="310.4" class="tk" text-anchor="end">-150</text>
<text x="376" y="289.1" class="tk" text-anchor="end">-100</text>
<text x="376" y="267.8" class="tk" text-anchor="end">-50</text>
<text x="376" y="246.5" class="tk" text-anchor="end">0</text>
<text x="376" y="225.2" class="tk" text-anchor="end">50</text>
<text x="376" y="203.9" class="tk" text-anchor="end">100</text>
<text x="440.5" y="196.6" class="ti" text-anchor="middle">SS</text>
<text x="440.5" y="351.9" class="lb" text-anchor="middle">Ey (mV/m)</text>
<text transform="translate(354.4 265.1) rotate(-90)" class="lb" text-anchor="middle">PP amplitudes (nT)</text>
<text x="393.6" y="212.7" class="eq" textLength="70.1">x*5.9477+-2.7583</text>
<line x1="578.16" y1="198.3" x2="578.16" y2="325.7" stroke="#ebebeb" stroke-width="1"/>
<line x1="603.02" y1="198.3" x2="603.02" y2="325.7" stroke="#ebebeb" stroke-width="1"/>
<line x1="627.88" y1="198.3" x2="627.88" y2="325.7" stroke="#ebebeb" stroke-width="1"/>
<line x1="652.74" y1="198.3" x2="652.74" y2="325.7" stroke="#ebebeb" stroke-width="1"/>
<line x1="553.3" y1="322.71" x2="677.6" y2="322.71" stroke="#ebebeb" stroke-width="1"/>
<line x1="553.3" y1="301.98" x2="677.6" y2="301.98" stroke="#ebebeb" stroke-width="1"/>
<line x1="553.3" y1="281.24" x2="677.6" y2="281.24" stroke="#ebebeb" stroke-width="1"/>
<line x1="553.3" y1="260.51" x2="677.6" y2="260.51" stroke="#ebebeb" stroke-width="1"/>
<line x1="553.3" y1="239.77" x2="677.6" y2="239.77" stroke="#ebebeb" stroke-width="1"/>
<line x1="553.3" y1="219.04" x2="677.6" y2="219.04" stroke="#ebebeb" stroke-width="1"/>
<path d="M553.3 198.3H677.6V325.7" fill="none" stroke="#e2e2e2" stroke-width="1"/>
<path d="M553.3 198.3V325.7H677.6" fill="none" stroke="#acacac" stroke-width="1.4"/>
<path d="M553.3 325.7v-1.4M578.16 325.7v-1.4M603.02 325.7v-1.4M627.88 325.7v-1.4M652.74 325.7v-1.4M677.6 325.7v-1.4M553.3 322.71h1.4M553.3 301.98h1.4M553.3 281.24h1.4M553.3 260.51h1.4M553.3 239.77h1.4M553.3 219.04h1.4M553.3 198.3h1.4" stroke="#707070" stroke-width="0.9" fill="none"/>
<circle cx="633.8" cy="224.5" r="2.95" fill="#f00000" stroke="#4a0000" stroke-width="0.6"/>
<circle cx="633.8" cy="226.8" r="2.95" fill="#f00000" stroke="#4a0000" stroke-width="0.6"/>
<circle cx="647.9" cy="223.5" r="2.95" fill="#f00000" stroke="#4a0000" stroke-width="0.6"/>
<circle cx="645.2" cy="225.4" r="2.95" fill="#f00000" stroke="#4a0000" stroke-width="0.6"/>
<circle cx="642.1" cy="228.7" r="2.95" fill="#f00000" stroke="#4a0000" stroke-width="0.6"/>
<circle cx="640.2" cy="234.1" r="2.95" fill="#f00000" stroke="#4a0000" stroke-width="0.6"/>
<circle cx="633.3" cy="236" r="2.95" fill="#f00000" stroke="#4a0000" stroke-width="0.6"/>
<circle cx="634.8" cy="237.8" r="2.95" fill="#f00000" stroke="#4a0000" stroke-width="0.6"/>
<circle cx="617.8" cy="243.3" r="2.95" fill="#f00000" stroke="#4a0000" stroke-width="0.6"/>
<circle cx="615" cy="247.1" r="2.95" fill="#f00000" stroke="#4a0000" stroke-width="0.6"/>
<circle cx="609.9" cy="250.6" r="2.95" fill="#f00000" stroke="#4a0000" stroke-width="0.6"/>
<circle cx="620.3" cy="250.3" r="2.95" fill="#f00000" stroke="#4a0000" stroke-width="0.6"/>
<circle cx="614.1" cy="254.6" r="2.95" fill="#f00000" stroke="#4a0000" stroke-width="0.6"/>
<circle cx="619.1" cy="256.6" r="2.95" fill="#f00000" stroke="#4a0000" stroke-width="0.6"/>
<circle cx="615.7" cy="258.4" r="2.95" fill="#f00000" stroke="#4a0000" stroke-width="0.6"/>
<circle cx="621.4" cy="261.7" r="2.95" fill="#f00000" stroke="#4a0000" stroke-width="0.6"/>
<circle cx="595.2" cy="254.6" r="2.95" fill="#f00000" stroke="#4a0000" stroke-width="0.6"/>
<circle cx="597.7" cy="267" r="2.95" fill="#f00000" stroke="#4a0000" stroke-width="0.6"/>
<circle cx="602.6" cy="270.7" r="2.95" fill="#f00000" stroke="#4a0000" stroke-width="0.6"/>
<circle cx="620.2" cy="271.4" r="2.95" fill="#f00000" stroke="#4a0000" stroke-width="0.6"/>
<circle cx="580.3" cy="325.4" r="2.95" fill="#f00000" stroke="#4a0000" stroke-width="0.6"/>
<line x1="580.4" y1="294.8" x2="647.9" y2="219.5" stroke="#151515" stroke-width="1.0"/>
<text x="553.3" y="337.8" class="tk" text-anchor="middle">-30</text>
<text x="578.16" y="337.8" class="tk" text-anchor="middle">-20</text>
<text x="603.02" y="337.8" class="tk" text-anchor="middle">-10</text>
<text x="627.88" y="337.8" class="tk" text-anchor="middle">0</text>
<text x="652.74" y="337.8" class="tk" text-anchor="middle">10</text>
<text x="677.6" y="337.8" class="tk" text-anchor="middle">20</text>
<text x="550.1" y="326.11" class="tk" text-anchor="end">-200</text>
<text x="550.1" y="305.38" class="tk" text-anchor="end">-150</text>
<text x="550.1" y="284.64" class="tk" text-anchor="end">-100</text>
<text x="550.1" y="263.91" class="tk" text-anchor="end">-50</text>
<text x="550.1" y="243.17" class="tk" text-anchor="end">0</text>
<text x="550.1" y="222.44" class="tk" text-anchor="end">50</text>
<text x="550.1" y="201.7" class="tk" text-anchor="end">100</text>
<text x="615.45" y="194.4" class="ti" text-anchor="middle">AE</text>
<text x="615.45" y="349.3" class="lb" text-anchor="middle">Ey (mV/m)</text>
<text transform="translate(528.5 262.7) rotate(-90)" class="lb" text-anchor="middle">PP amplitudes (nT)</text>
<text x="570.3" y="212.2" class="eq" textLength="70.7">x*6.7322+-4.6844</text>
</svg>
</body></html>
